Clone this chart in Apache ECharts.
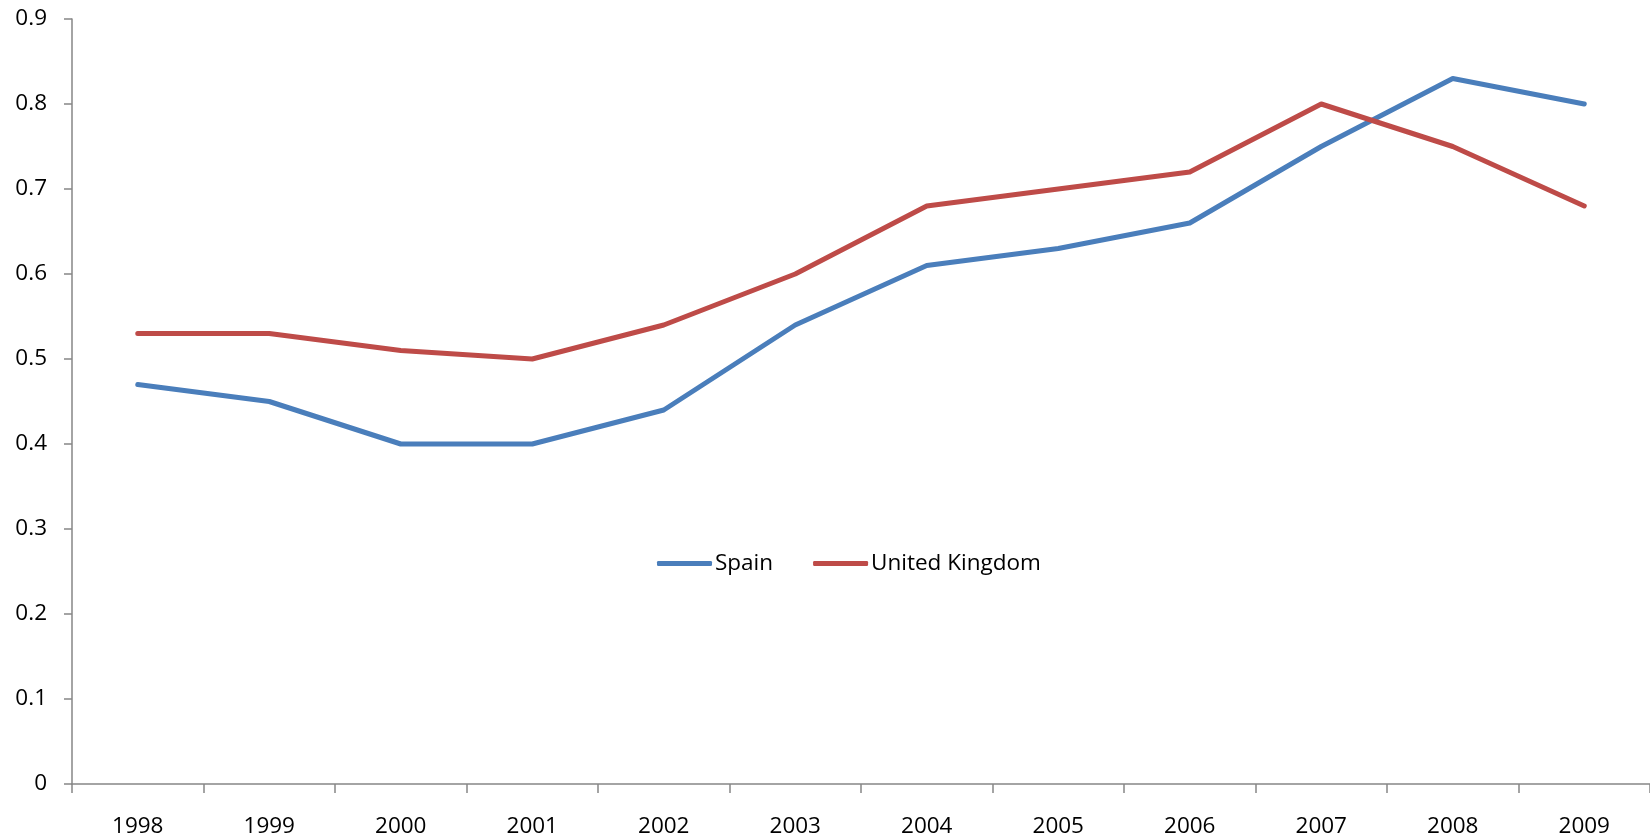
<!DOCTYPE html>
<html><head><meta charset="utf-8">
<script src="https://cdn.jsdelivr.net/npm/echarts@6/dist/echarts.min.js"></script>
<style>html,body{margin:0;padding:0;background:#fff}#c{width:1650px;height:840px}</style>
</head><body><div id="c"></div>
<script>
const years = ['1998','1999','2000','2001','2002','2003','2004','2005','2006','2007','2008','2009'];
const spain = [0.47,0.45,0.40,0.40,0.44,0.54,0.61,0.63,0.66,0.75,0.83,0.80];
const uk = [0.53,0.53,0.51,0.50,0.54,0.60,0.68,0.70,0.72,0.80,0.75,0.68];
const FONT = 'Open Sans';
const chart = echarts.init(document.getElementById('c'), null, {renderer:'canvas'});
chart.setOption({
  animation:false,
  backgroundColor:'#fff',
  grid:{left:72,right:-4,top:19,bottom:56,containLabel:false},
  legend:{
    left:652, top:547, itemWidth:55, itemHeight:5, itemGap:40,
    icon:'roundRect',
    textStyle:{fontFamily:FONT,fontSize:22.5,color:'#000',padding:[0,0,0,-2]},
    data:['Spain','United Kingdom']
  },
  xAxis:{
    type:'category', data:years, boundaryGap:true,
    axisLine:{lineStyle:{color:'#868686',width:1.5}},
    axisTick:{show:true,length:9,interval:0,lineStyle:{color:'#868686',width:1.5}},
    axisLabel:{interval:0,margin:31,fontFamily:FONT,fontSize:22.5,color:'#000'},
    splitLine:{show:false}
  },
  yAxis:{
    type:'value', min:0, max:0.9, interval:0.1,
    axisLine:{show:true,lineStyle:{color:'#868686',width:1.5}},
    axisTick:{show:true,length:8,lineStyle:{color:'#868686',width:1.5}},
    axisLabel:{margin:25,fontFamily:FONT,fontSize:22.5,color:'#000',
      formatter:v=>(Math.round(v*10)/10).toString()},
    splitLine:{show:false}
  },
  series:[
    {name:'Spain',type:'line',data:spain,symbol:'none',
     lineStyle:{color:'#4A7EBB',width:5,cap:'round',join:'round'},itemStyle:{color:'#4A7EBB'}},
    {name:'United Kingdom',type:'line',data:uk,symbol:'none',
     lineStyle:{color:'#BE4B48',width:5,cap:'round',join:'round'},itemStyle:{color:'#BE4B48'}}
  ]
});
</script></body></html>
